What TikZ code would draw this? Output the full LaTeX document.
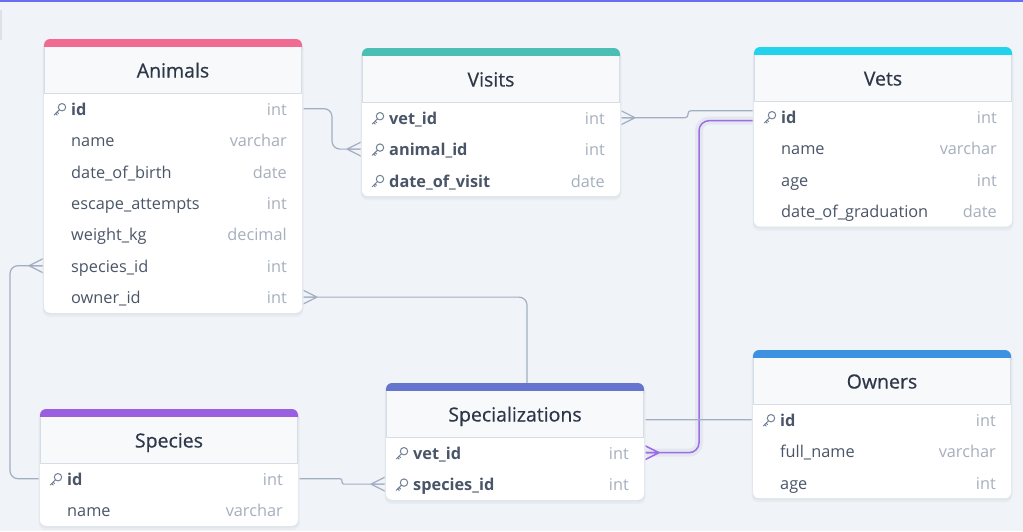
\documentclass[tikz,border=0pt]{standalone}
\usepackage{fontspec}
\setmainfont{Open Sans}
\newfontfamily\titlefam{Open Sans}[FakeBold=0.5]
\usetikzlibrary{calc}
\pgfdeclarelayer{back}
\pgfdeclarelayer{links}
\pgfsetlayers{back,links,main}

\definecolor{pagebg}{HTML}{F0F4F8}
\definecolor{topline}{HTML}{6B6EF0}
\definecolor{edgeline}{HTML}{DCE2EA}
\definecolor{linkc}{HTML}{A3AEC2}
\definecolor{hlc}{HTML}{9D6CE6}
\definecolor{glowc}{HTML}{E3E7EF}
\definecolor{headc}{HTML}{F7F9FB}
\definecolor{headline}{HTML}{D6DDE7}
\definecolor{titlec}{HTML}{2D3748}
\definecolor{fieldc}{HTML}{4A5568}
\definecolor{typec}{HTML}{A6AFBD}
\definecolor{keyc}{HTML}{718096}
\definecolor{shadowc}{HTML}{E0E5EC}
\definecolor{animalsc}{HTML}{F06A92}
\definecolor{visitsc}{HTML}{4BBFB3}
\definecolor{vetsc}{HTML}{22D3EE}
\definecolor{speciesc}{HTML}{9A5EE0}
\definecolor{specc}{HTML}{6574CD}
\definecolor{ownersc}{HTML}{3C92E0}

\tikzset{
  tablenode/.style={draw=none, inner sep=0pt, outer sep=0pt, minimum width=258pt},
  rownode/.style={draw=none, inner sep=0pt, outer sep=0pt, minimum width=258pt, minimum height=31.4pt},
  titletext/.style={text=titlec, inner sep=0pt, font=\titlefam\fontsize{19.5}{24}\selectfont},
  fieldtext/.style={text=fieldc, inner sep=0pt, font=\fontsize{16.3}{19}\selectfont},
  typetext/.style={text=typec, inner sep=0pt, font=\fontsize{16.3}{19}\selectfont},
  link/.style={draw=linkc, line width=1.2pt},
  hl/.style={draw=hlc, line width=1.5pt},
  glow/.style={draw=glowc, line width=8pt},
  crowfoot/.pic={\draw (-15,0) -- (0,-7.5) (-15,0) -- (0,7.5) (-15,0) -- (0,0);},
  crowfootR/.pic={\draw (15,0) -- (0,-7.5) (15,0) -- (0,7.5) (15,0) -- (0,0);},
  keyicon/.pic={
    \draw[line width=1pt] (2.5,-2.5) circle (3.7);
    \draw[line width=1pt, line cap=round] (-0.1,0.1) -- (-5.2,5.2);
    \draw[line width=1pt, line cap=round] (-3.8,3.8) -- (-2.3,5.3);
    \draw[line width=1pt, line cap=round] (-2.4,2.4) -- (-1,3.8);
  }
}

% #1 name, #2 left, #3 top, #4 bar colour, #5 title, #6 number of rows
\newcommand\ertable[6]{%
  \pgfmathsetmacro\erh{54+#6*31.4}%
  \node[tablenode, minimum height=\erh pt, anchor=north west] (#1) at (#2,#3) {};
  \fill[shadowc!55!pagebg, rounded corners=7pt] ($(#1.north west)+(-1.5,2)$) rectangle ($(#1.south east)+(1.5,4)$);
  \fill[shadowc, rounded corners=6pt] ($(#1.north west)+(-0.6,1)$) rectangle ($(#1.south east)+(0.6,1.8)$);
  \fill[white, rounded corners=6pt] (#1.north west) rectangle (#1.south east);
  \fill[#4, rounded corners=6pt] (#1.north west) rectangle ($(#1.north east)+(0,16)$);
  \fill[headc] ($(#1.north west)+(0,8)$) rectangle ($(#1.north east)+(0,54)$);
  \draw[headline, line width=0.9pt] ($(#1.north west)+(0.45,8)$) -- ($(#1.north west)+(0.45,54)$) -- ($(#1.north east)+(-0.45,54)$) -- ($(#1.north east)+(-0.45,8)$);
  \node[titletext, anchor=base] (#1-title) at ($(#1.north)+(0,38.5)$) {#5};
}
% #1 table, #2 row id, #3 index, #4 field, #5 type
\newcommand\errow[5]{%
  \node[rownode] (#1-#2) at ($(#1.north)+(0,54+15.7+#3*31.4-31.4)$) {};
  \node[fieldtext, anchor=base west] (#1-#2-name) at ($(#1-#2.west)+(27,6.5)$) {#4};
  \node[typetext, anchor=base east] (#1-#2-type) at ($(#1-#2.east)+(-15,6.5)$) {#5};
}
\newcommand\erkey[2]{\pic[keyc] at ($(#1-#2.west)+(15.5,1)$) {keyicon};}

\begin{document}
\begin{tikzpicture}[x=1pt, y=-1pt]
\useasboundingbox (0,0) rectangle (1023,531);
\begin{pgfonlayer}{back}
  \fill[pagebg] (0,0) rectangle (1023,531);
  \fill[topline] (0,0) rectangle (1023,1.6);
  \fill[edgeline] (0,10) rectangle (1.5,40);
\end{pgfonlayer}

% Animals
\ertable{animals}{44}{39}{animalsc}{Animals}{7}
\errow{animals}{id}{1}{\bfseries id}{int}
\erkey{animals}{id}
\errow{animals}{name}{2}{name}{varchar}
\errow{animals}{dob}{3}{date\_of\_birth}{date}
\errow{animals}{escape}{4}{escape\_attempts}{int}
\errow{animals}{weight}{5}{weight\_kg}{decimal}
\errow{animals}{speciesid}{6}{species\_id}{int}
\errow{animals}{ownerid}{7}{owner\_id}{int}

% Visits
\ertable{visits}{362}{48}{visitsc}{Visits}{3}
\errow{visits}{vetid}{1}{\bfseries vet\_id}{int}
\erkey{visits}{vetid}
\errow{visits}{animalid}{2}{\bfseries animal\_id}{int}
\erkey{visits}{animalid}
\errow{visits}{date}{3}{\bfseries date\_of\_visit}{date}
\erkey{visits}{date}

% Vets
\ertable{vets}{754}{47}{vetsc}{Vets}{4}
\errow{vets}{id}{1}{\bfseries id}{int}
\erkey{vets}{id}
\errow{vets}{name}{2}{name}{varchar}
\errow{vets}{age}{3}{age}{int}
\errow{vets}{grad}{4}{date\_of\_graduation}{date}

% Species
\ertable{species}{40}{409}{speciesc}{Species}{2}
\errow{species}{id}{1}{\bfseries id}{int}
\erkey{species}{id}
\errow{species}{name}{2}{name}{varchar}

% Specializations
\ertable{spec}{386}{383}{specc}{Specializations}{2}
\errow{spec}{vetid}{1}{\bfseries vet\_id}{int}
\erkey{spec}{vetid}
\errow{spec}{speciesid}{2}{\bfseries species\_id}{int}
\erkey{spec}{speciesid}

% Owners
\ertable{owners}{753}{350}{ownersc}{Owners}{3}
\errow{owners}{id}{1}{\bfseries id}{int}
\erkey{owners}{id}
\errow{owners}{fullname}{2}{full\_name}{varchar}
\errow{owners}{age}{3}{age}{int}

% connectors
\begin{pgfonlayer}{links}
  \draw[link, rounded corners=8pt] (animals-id.east) -| ($(visits-animalid.west)+(-30,0)$) -- (visits-animalid.west);
  \pic[linkc, line width=1.2pt] at (visits-animalid.west) {crowfoot};

  \draw[link, rounded corners=3pt] (visits-vetid.east) -| ($(vets-id.west)+(-66,-6)$) -- ($(vets-id.west)+(0,-6)$);
  \pic[linkc, line width=1.2pt] at (visits-vetid.east) {crowfootR};

  \draw[glow, rounded corners=10pt] ($(vets-id.west)+(0,4)$) -| ($(spec-vetid.east)+(55,0)$) -- (spec-vetid.east);
  \draw[hl, rounded corners=10pt] ($(vets-id.west)+(0,4)$) -| ($(spec-vetid.east)+(55,0)$) -- (spec-vetid.east);
  \pic[hlc, line width=1.5pt] at (spec-vetid.east) {crowfootR};

  \draw[link, rounded corners=2pt] (species-id.east) -| ($(spec-speciesid.west)+(-44,0)$) -- (spec-speciesid.west);
  \pic[linkc, line width=1.2pt] at (spec-speciesid.west) {crowfoot};

  \draw[link, rounded corners=8pt] (species-id.west) -| ($(animals-speciesid.west)+(-34,0)$) -- (animals-speciesid.west);
  \pic[linkc, line width=1.2pt] at (animals-speciesid.west) {crowfoot};

  \draw[link, rounded corners=8pt] (animals-ownerid.east) -| ($(owners-id.west)+(-226,0)$) -- (owners-id.west);
  \pic[linkc, line width=1.2pt] at (animals-ownerid.east) {crowfootR};
\end{pgfonlayer}
\end{tikzpicture}
\end{document}
